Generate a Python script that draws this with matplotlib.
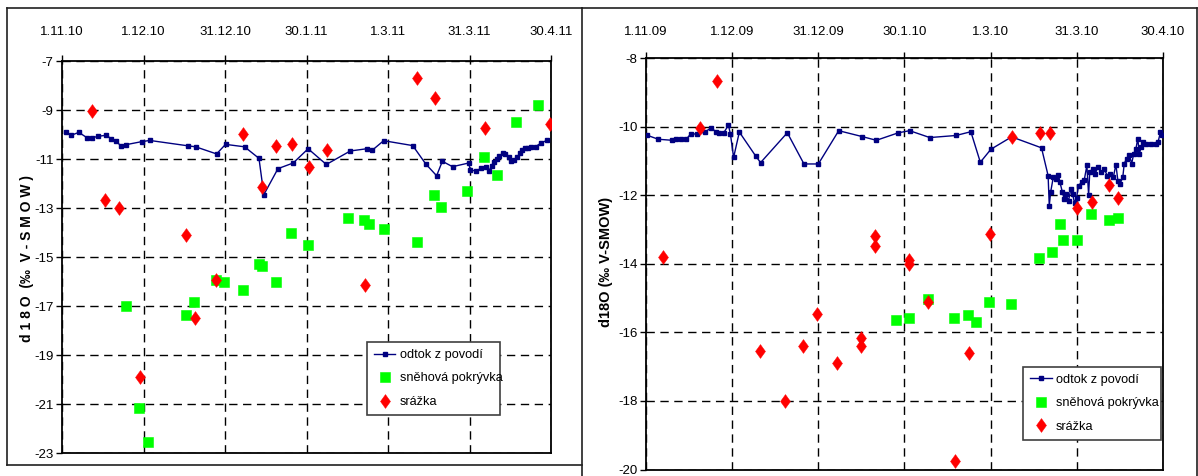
import matplotlib
matplotlib.use("Agg")
import matplotlib.pyplot as plt
from matplotlib.lines import Line2D
from matplotlib.path import Path

plt.rcParams['font.family'] = ['Liberation Sans', 'DejaVu Sans']

# ---------------- data: left panel (1.11.2010 - 30.4.2011), x = days since 1.11.10
L_tick_days = [0, 30, 60, 90, 120, 150, 180]
L_tick_labels = ['1.11.10', '1.12.10', '31.12.10', '30.1.11', '1.3.11', '31.3.11', '30.4.11']

L_flow_days = [1.4, 3.4, 6.2, 9.2, 11.1, 13.4, 16.2, 18.2, 20.0, 21.6, 23.7, 29.3, 32.3,
               46.4, 49.2, 56.9, 60.2, 67.2, 72.5, 74.3, 79.5, 85.1, 90.6, 97.3, 106.1,
               112.1, 114.2, 118.4, 129.1, 133.9, 137.9, 140.0, 143.75, 149.75, 150.25,
               152.5, 154.4, 155.9, 157.25, 158.1, 159.0, 160.0, 161.0, 162.25, 163.1,
               164.4, 165.4, 166.5, 167.5, 168.5, 169.4, 170.6, 171.5, 172.75, 174.4,
               176.5, 178.5]
L_flow_vals = [-9.91, -10.03, -9.91, -10.13, -10.13, -10.07, -10.03, -10.17, -10.27, -10.46,
               -10.41, -10.29, -10.24, -10.46, -10.50, -10.79, -10.40, -10.50, -10.97, -12.45,
               -11.39, -11.16, -10.58, -11.22, -10.67, -10.58, -10.64, -10.25, -10.45, -11.20,
               -11.68, -11.09, -11.31, -11.16, -11.44, -11.49, -11.36, -11.31, -11.47, -11.27,
               -11.13, -11.00, -10.87, -10.77, -10.80, -10.93, -11.09, -11.04, -10.93, -10.77,
               -10.64, -10.53, -10.56, -10.49, -10.49, -10.33, -10.24]

L_snow_days = [23.5, 28.5, 31.7, 45.7, 48.6, 56.8, 59.8, 66.7, 72.6, 73.6, 78.8, 84.4,
               90.6, 105.3, 111.2, 113.0, 118.5, 130.5, 136.9, 139.6, 149.1, 155.3,
               160.2, 167.2, 175.2]
L_snow_vals = [-17.0, -21.17, -22.52, -17.36, -16.82, -15.94, -16.03, -16.32, -15.27, -15.36,
               -16.03, -14.03, -14.49, -13.41, -13.48, -13.66, -13.86, -14.39, -12.47, -12.94,
               -12.29, -10.93, -11.63, -9.50, -8.81]

L_rain_days = [10.9, 15.8, 20.9, 28.6, 45.8, 48.8, 56.8, 66.7, 73.6, 78.8, 84.6, 90.8,
               97.7, 111.5, 130.7, 137.3, 155.6, 179.6]
L_rain_vals = [-9.05, -12.68, -13.01, -19.90, -14.11, -17.50, -15.94, -9.99, -12.12, -10.48,
               -10.38, -11.32, -10.62, -16.15, -7.70, -8.49, -9.74, -9.55]

# ---------------- data: right panel (1.11.2009 - 30.4.2010), x = days since 1.11.09
R_tick_days = [0, 30, 60, 90, 120, 150, 180]
R_tick_labels = ['1.11.09', '1.12.09', '31.12.09', '30.1.10', '1.3.10', '31.3.10', '30.4.10']

R_flow_days = [0.3, 4.3, 9.2, 10.4, 12.1, 14.0, 15.6, 17.7, 20.4, 22.7, 24.5, 25.5, 27.0,
               28.7, 29.4, 30.5, 32.5, 38.2, 39.9, 49.2, 55.0, 60.0, 67.1, 75.2, 80.2, 87.9,
               91.8, 98.8, 107.9, 113.1, 116.4, 120.1, 127.3, 137.7, 140.0, 140.4, 140.9,
               141.8, 142.7, 143.6, 144.1, 145.0, 145.6, 146.2, 147.1, 147.9, 148.5, 149.2,
               149.9, 150.6, 151.7, 152.6, 153.5, 154.1, 154.5, 155.5, 156.4, 157.3, 158.5,
               159.5, 160.6, 161.6, 162.7, 163.6, 164.3, 165.0, 166.0, 166.5, 167.3, 168.3,
               169.1, 169.8, 170.6, 171.2, 171.8, 172.4, 172.9, 174.1, 175.8, 177.6, 178.3,
               179.1, 179.7]
R_flow_vals = [-10.25, -10.37, -10.40, -10.35, -10.35, -10.37, -10.21, -10.22, -10.16, -10.04,
               -10.16, -10.19, -10.19, -9.96, -10.22, -10.90, -10.16, -10.86, -11.05, -10.18,
               -11.09, -11.09, -10.12, -10.29, -10.40, -10.18, -10.12, -10.32, -10.26, -10.15,
               -11.04, -10.66, -10.30, -10.62, -11.43, -12.31, -11.90, -11.48, -11.53, -11.40,
               -11.62, -11.92, -12.12, -11.97, -12.17, -11.82, -11.97, -12.22, -12.07, -11.72,
               -11.62, -11.55, -11.13, -12.00, -11.33, -11.23, -11.38, -11.18, -11.33, -11.23,
               -11.43, -11.38, -11.48, -11.11, -11.58, -11.67, -11.48, -11.08, -10.94, -10.84,
               -11.08, -10.79, -10.64, -10.35, -10.79, -10.59, -10.46, -10.51, -10.52, -10.52,
               -10.44, -10.17, -10.25]

R_snow_days = [87.2, 91.4, 98.2, 107.2, 112.2, 115.0, 119.5, 127.1, 136.9, 141.2, 144.1,
               145.2, 150.1, 155.1, 161.1, 164.2]
R_snow_vals = [-15.64, -15.58, -15.04, -15.58, -15.48, -15.71, -15.13, -15.16, -13.83, -13.66,
               -12.84, -13.30, -13.30, -12.54, -12.72, -12.68]

R_rain_days = [5.8, 18.9, 24.8, 39.6, 48.5, 54.5, 59.6, 66.6, 74.8, 74.8, 79.6, 79.6, 91.7,
               91.7, 98.3, 107.5, 112.6, 119.6, 127.4, 137.1, 140.5, 150.2, 155.3, 161.3, 164.4]
R_rain_vals = [-13.81, -10.04, -8.68, -16.53, -17.99, -16.39, -15.46, -16.90, -16.16, -16.39,
               -13.20, -13.49, -13.88, -14.00, -15.12, -19.76, -16.60, -13.14, -10.30, -10.20,
               -10.20, -12.36, -12.19, -11.70, -12.08]

labels = ['odtok z povodí', 'sněhová pokrývka', 'srážka']

W, H = 1198, 476
fig = plt.figure(figsize=(W / 100, H / 100), dpi=100)

diamond = Path([(0, 1), (0.72, 0), (0, -1), (-0.72, 0), (0, 1)],
               [Path.MOVETO, Path.LINETO, Path.LINETO, Path.LINETO, Path.CLOSEPOLY])


def frac(x0, y0, x1, y1):
    return [x0 / W, 1 - y1 / H, (x1 - x0) / W, (y1 - y0) / H]


def panel(rect, fd, fv, sd, sv, rd, rv, ticks, ticklabels, ylim, yticks, xpad, legbox):
    ax = fig.add_axes(rect)
    ax.plot(fd, fv, color='#000080', lw=1.0, marker='s', ms=3.2, mec='#000080',
            mfc='#000080', zorder=3, label=labels[0])
    ax.plot(sd, sv, ls='none', marker='s', ms=7.0, color='#00FF00', mec='#00FF00',
            mew=0.4, zorder=4, label=labels[1])
    ax.plot(rd, rv, ls='none', marker=diamond, ms=10, color='#FF0000', mec='#FF0000',
            mew=0.3, zorder=5, label=labels[2])
    ax.set_xlim(0, 180)
    ax.set_ylim(*ylim)
    ax.set_xticks(ticks)
    ax.set_xticklabels(ticklabels)
    ax.set_yticks(yticks)
    ax.set_yticklabels([str(v) for v in yticks])
    ax.xaxis.tick_top()
    ax.tick_params(axis='x', direction='out', length=4, width=1, pad=xpad, labelsize=9.5,
                   top=True, bottom=False)
    ax.tick_params(axis='y', direction='out', length=4, width=1, pad=2, labelsize=9.5)
    ax.grid(True, color='black', lw=1.0, ls=(0, (6, 4)))
    ax.set_axisbelow(True)
    for s in ax.spines.values():
        s.set_linewidth(1.3)
        s.set_color('black')
    leg = ax.legend(loc='lower left', bbox_to_anchor=legbox, mode='expand',
                    fancybox=False, edgecolor='#404040', framealpha=1, numpoints=1,
                    fontsize=9.2, handlelength=1.7, handletextpad=0.35,
                    labelspacing=0.9, borderpad=0.55, borderaxespad=0)
    leg.get_frame().set_linewidth(1.2)
    return ax


axL = panel(frac(62, 61, 551, 453.3), L_flow_days, L_flow_vals, L_snow_days, L_snow_vals,
            L_rain_days, L_rain_vals, L_tick_days, L_tick_labels, (-23, -7),
            list(range(-23, -6, 2)), 12.5, (0.623, 0.0976, 0.272, 0.2))
axR = panel(frac(646, 58, 1163, 469.5), R_flow_days, R_flow_vals, R_snow_days, R_snow_vals,
            R_rain_days, R_rain_vals, R_tick_days, R_tick_labels, (-20, -8),
            list(range(-20, -7, 2)), 10.5, (0.729, 0.0717, 0.268, 0.18))

fig.text(27 / W, 1 - 258 / H, 'd 1 8 O  (‰  V - S M O W )', rotation=90, ha='center',
         va='center', fontsize=10, fontweight='bold')
fig.text(606 / W, 1 - 262 / H, 'd18O (‰ V-SMOW)', rotation=90, ha='center',
         va='center', fontsize=10.5, fontweight='bold')


def fline(xs, ys):
    fig.add_artist(Line2D([x / W for x in xs], [1 - y / H for y in ys], color='#202020',
                          lw=1.2, transform=fig.transFigure))


fline([7, 582], [8, 8])
fline([7, 7], [8, 465])
fline([7, 582], [465, 465])
fline([582, 582], [8, 476])
fline([582, 1197], [7.5, 7.5])
fline([1197, 1197], [7.5, 476])

fig.savefig('out.png', dpi=100)
